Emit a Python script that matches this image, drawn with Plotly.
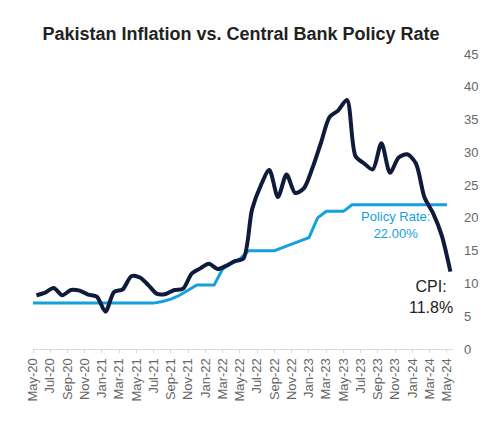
import plotly.graph_objects as go

months = ["May-20","Jun-20","Jul-20","Aug-20","Sep-20","Oct-20","Nov-20","Dec-20",
          "Jan-21","Feb-21","Mar-21","Apr-21","May-21","Jun-21","Jul-21","Aug-21","Sep-21","Oct-21","Nov-21","Dec-21",
          "Jan-22","Feb-22","Mar-22","Apr-22","May-22","Jun-22","Jul-22","Aug-22","Sep-22","Oct-22","Nov-22","Dec-22",
          "Jan-23","Feb-23","Mar-23","Apr-23","May-23","Jun-23","Jul-23","Aug-23","Sep-23","Oct-23","Nov-23","Dec-23",
          "Jan-24","Feb-24","Mar-24","Apr-24","May-24"]

cpi = [8.2, 8.6, 9.3, 8.2, 9.0, 8.9, 8.3, 8.0,
       5.7, 8.7, 9.1, 11.1, 10.9, 9.7, 8.4, 8.4, 9.0, 9.2, 11.5, 12.3,
       13.0, 12.2, 12.7, 13.4, 13.8, 21.3, 24.9, 27.3, 23.2, 26.6, 23.8, 24.5,
       27.6, 31.5, 35.4, 36.4, 38.0, 29.4, 28.3, 27.4, 31.4, 26.9, 29.2, 29.7,
       28.3, 23.1, 20.7, 17.3, 11.8]

policy = [7.0, 7.0, 7.0, 7.0, 7.0, 7.0, 7.0, 7.0,
          7.0, 7.0, 7.0, 7.0, 7.0, 7.0, 7.0, 7.25, 7.6, 8.2, 9.0, 9.75,
          9.75, 9.75, 12.25, 13.0, 13.75, 15.0, 15.0, 15.0, 15.0, 15.5, 16.0, 16.5,
          17.0, 20.0, 21.0, 21.0, 21.0, 22.0, 22.0, 22.0, 22.0, 22.0, 22.0, 22.0,
          22.0, 22.0, 22.0, 22.0, 22.0]

tick_idx = list(range(0, len(months), 2))
tick_txt = [months[i] for i in tick_idx]

x_pol = list(range(len(policy)))
x_cpi = [i + 0.4 for i in range(len(cpi))]

fig = go.Figure()
fig.add_trace(go.Scatter(x=x_pol, y=policy, mode="lines", name="Policy Rate",
                         line=dict(color="#14A0DE", width=3)))
fig.add_trace(go.Scatter(x=x_cpi, y=cpi, mode="lines", name="CPI",
                         line=dict(color="#0E1B3A", width=4, shape="spline", smoothing=0.8)))

fig.add_annotation(x=42.0, y=18.9, text="Policy Rate:<br>22.00%", showarrow=False,
                   font=dict(family="Liberation Sans, Arial", size=13, color="#14A0DE"))
fig.add_annotation(x=46.2, y=8.0, text="CPI:<br>11.8%", showarrow=False,
                   font=dict(family="Liberation Sans, Arial", size=16, color="#222222"))

fig.update_layout(
    width=500, height=427,
    margin=dict(l=33, r=47, t=54, b=78),
    paper_bgcolor="white", plot_bgcolor="white",
    showlegend=False,
    title=dict(text="<b>Pakistan Inflation vs. Central Bank Policy Rate</b>",
               x=0.482, xanchor="center", y=0.922, yanchor="middle",
               font=dict(family="Liberation Sans, Arial", size=18, color="#222222")),
    font=dict(family="Liberation Sans, Arial", size=13, color="#666666"),
)
fig.update_xaxes(range=[0, 48.7], tickmode="array", tickvals=tick_idx, ticktext=tick_txt,
                 tickangle=-90, showgrid=False, zeroline=False,
                 showline=True, linecolor="#D9D9D9", linewidth=1,
                 ticks="outside", ticklen=3, tickcolor="#D9D9D9",
                 tickfont=dict(size=13, color="#666666"))
fig.update_yaxes(range=[0, 45], side="right", tickvals=list(range(0, 46, 5)),
                 showgrid=False, zeroline=False, showline=False,
                 ticks="", ticklabelstandoff=10, tickfont=dict(size=13, color="#666666"))

fig.write_html("out.html")
